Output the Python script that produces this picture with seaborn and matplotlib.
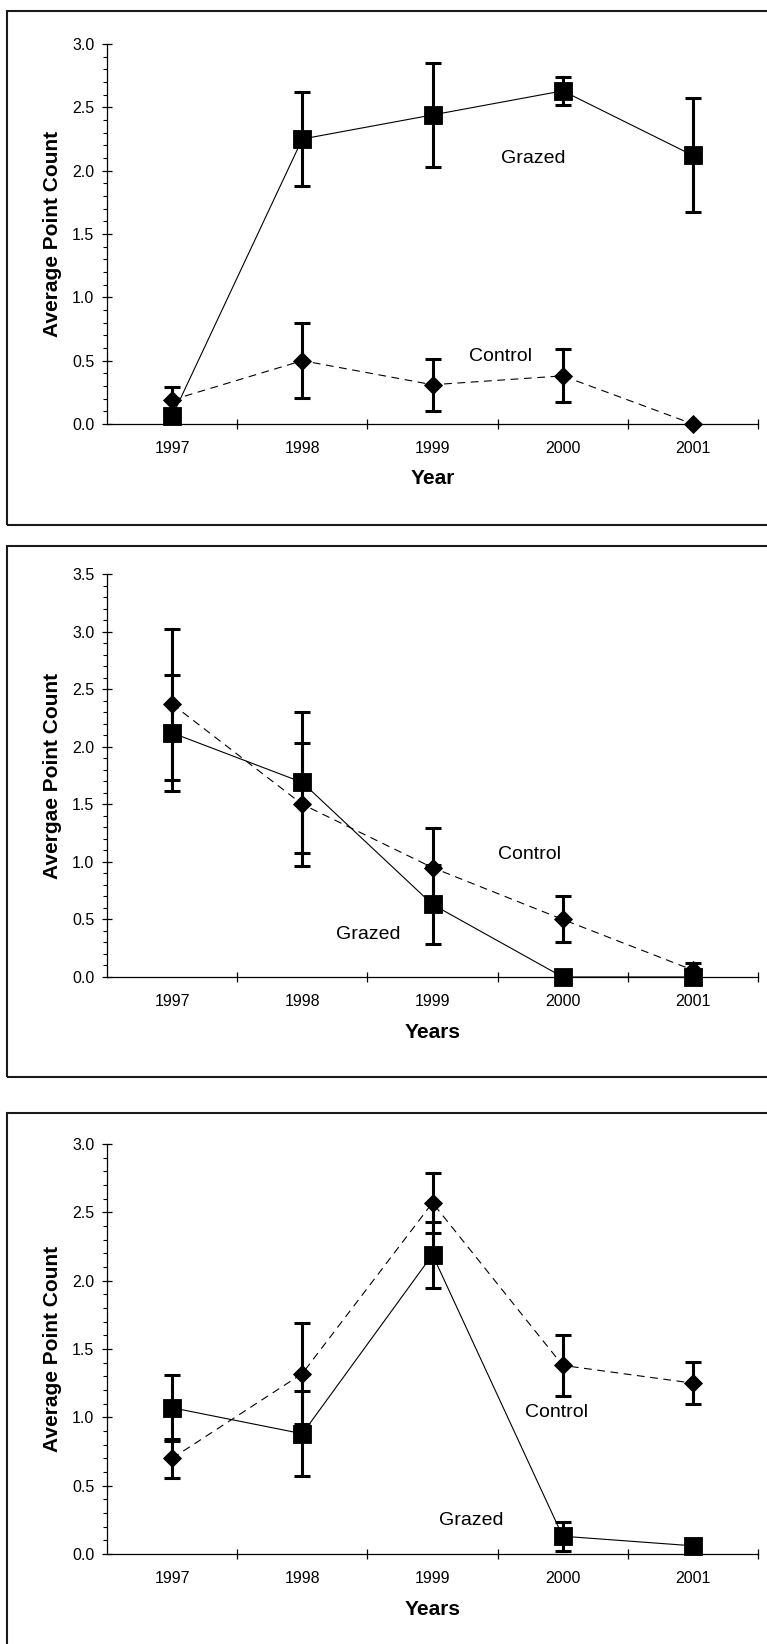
import matplotlib
matplotlib.use("Agg")
import matplotlib.pyplot as plt
import seaborn as sns
from matplotlib.patches import Rectangle
from matplotlib.ticker import MultipleLocator, FixedLocator, FormatStrFormatter

# ---------------- data ----------------
YEARS = ["1997", "1998", "1999", "2000", "2001"]

P1_GRAZED = [0.06, 2.25, 2.44, 2.63, 2.12]
P1_GRAZED_ERR = [0.0, 0.375, 0.41, 0.11, 0.45]
P1_CONTROL = [0.19, 0.50, 0.31, 0.38, 0.0]
P1_CONTROL_ERR = [0.105, 0.295, 0.205, 0.21, 0.0]

P2_GRAZED = [2.12, 1.69, 0.63, 0.0, 0.0]
P2_GRAZED_ERR = [0.505, 0.61, 0.34, 0.0, 0.0]
P2_CONTROL = [2.37, 1.50, 0.95, 0.50, 0.06]
P2_CONTROL_ERR = [0.655, 0.535, 0.34, 0.20, 0.065]

P3_GRAZED = [1.07, 0.88, 2.19, 0.13, 0.06]
P3_GRAZED_ERR = [0.24, 0.31, 0.24, 0.105, 0.0]
P3_CONTROL = [0.70, 1.32, 2.57, 1.38, 1.25]
P3_CONTROL_ERR = [0.145, 0.37, 0.22, 0.225, 0.155]

X_LABELS = ["Year", "Years", "Years"]
Y_LABELS = ["Average Point Count", "Avergae Point Count", "Average Point Count"]
Y_MAX = [3.0, 3.5, 3.0]

# ---------------- style ----------------
sns.set_theme(style="white")
plt.rcParams["font.family"] = ["Liberation Sans", "DejaVu Sans"]

W, H = 767, 1644
fig = plt.figure(figsize=(W / 100, H / 100), dpi=100)


def frac(x0, y0, x1, y1):
    return [x0 / W, 1 - y1 / H, (x1 - x0) / W, (y1 - y0) / H]


panels = [
    dict(box=(7.3, 10.7, 820, 524.7), ax=(107, 44, 758, 424),
         g=P1_GRAZED, ge=P1_GRAZED_ERR, c=P1_CONTROL, ce=P1_CONTROL_ERR,
         gl=(2.77, 2.057), cl=(2.52, 0.499)),
    dict(box=(7.3, 546, 820, 1076.7), ax=(107, 574, 758, 977),
         g=P2_GRAZED, ge=P2_GRAZED_ERR, c=P2_CONTROL, ce=P2_CONTROL_ERR,
         gl=(1.505, 0.326), cl=(2.745, 1.028)),
    dict(box=(7.3, 1113, 820, 1720), ax=(107, 1144, 758, 1554),
         g=P3_GRAZED, ge=P3_GRAZED_ERR, c=P3_CONTROL, ce=P3_CONTROL_ERR,
         gl=(2.30, 0.215), cl=(2.954, 1.005)),
]

for i, p in enumerate(panels):
    x0, y0, x1, y1 = p["box"]
    fig.add_artist(Rectangle((x0 / W, 1 - y1 / H), (x1 - x0) / W, (y1 - y0) / H,
                             transform=fig.transFigure, fill=False,
                             lw=1.5, ec="#1a1a1a"))

    ax = fig.add_axes(frac(*p["ax"]))
    ax.set_facecolor("none")
    ax_h = p["ax"][3] - p["ax"][1]
    ax_w = p["ax"][2] - p["ax"][0]

    sns.pointplot(x=YEARS, y=p["g"], color="black", markers="s", linestyles="-",
                  errorbar=None, ax=ax, markersize=13, linewidth=0.8,
                  clip_on=False, zorder=5)
    n = len(ax.lines)
    sns.pointplot(x=YEARS, y=p["c"], color="black", markers="D", linestyles="--",
                  errorbar=None, ax=ax, markersize=8.8, linewidth=0.8,
                  clip_on=False, zorder=5)
    for ln in ax.lines[n:]:
        ln.set_dashes((7, 5))

    for vals, errs in ((p["g"], p["ge"]), (p["c"], p["ce"])):
        xs = [YEARS[k] for k in range(len(YEARS)) if errs[k] > 0]
        ys = [vals[k] for k in range(len(YEARS)) if errs[k] > 0]
        es = [errs[k] for k in range(len(YEARS)) if errs[k] > 0]
        ax.errorbar(xs, ys, yerr=es, fmt="none", ecolor="black",
                    elinewidth=2.2, capsize=5.6, capthick=2.2, zorder=3,
                    clip_on=False)

    ax.set_xlim(-0.5, 4.5)
    ax.set_ylim(0, Y_MAX[i])
    ax.yaxis.set_major_locator(MultipleLocator(0.5))
    ax.yaxis.set_minor_locator(MultipleLocator(0.1))
    ax.yaxis.set_major_formatter(FormatStrFormatter("%.1f"))
    ax.xaxis.set_minor_locator(FixedLocator([0.5, 1.5, 2.5, 3.5, 4.5]))

    ax.tick_params(axis="y", which="major", direction="inout", length=7.2,
                   width=0.9, pad=5.6, labelsize=11.5, color="black",
                   labelcolor="black", left=True)
    ax.tick_params(axis="y", which="minor", direction="out", length=3,
                   width=0.8, color="black", left=True)
    ax.tick_params(axis="x", which="major", length=0, pad=12.5,
                   labelsize=11.5, labelcolor="black", bottom=True)
    ax.tick_params(axis="x", which="minor", direction="inout", length=7.2,
                   width=0.9, color="black", bottom=True)

    for s in ("top", "right"):
        ax.spines[s].set_visible(False)
    for s in ("left", "bottom"):
        ax.spines[s].set_color("black")
        ax.spines[s].set_linewidth(0.9)

    ax.set_xlabel(X_LABELS[i], fontsize=15, fontweight="bold", color="black")
    ax.xaxis.set_label_coords(0.5, -45.5 / ax_h)
    ax.set_ylabel(Y_LABELS[i], fontsize=15, fontweight="bold", color="black")
    ax.yaxis.set_label_coords(-45.0 / ax_w, 0.5)

    ax.text(p["gl"][0], p["gl"][1], "Grazed", fontsize=14, ha="center",
            va="baseline", color="black")
    ax.text(p["cl"][0], p["cl"][1], "Control", fontsize=14, ha="center",
            va="baseline", color="black")

fig.savefig("out.png", dpi=100)
